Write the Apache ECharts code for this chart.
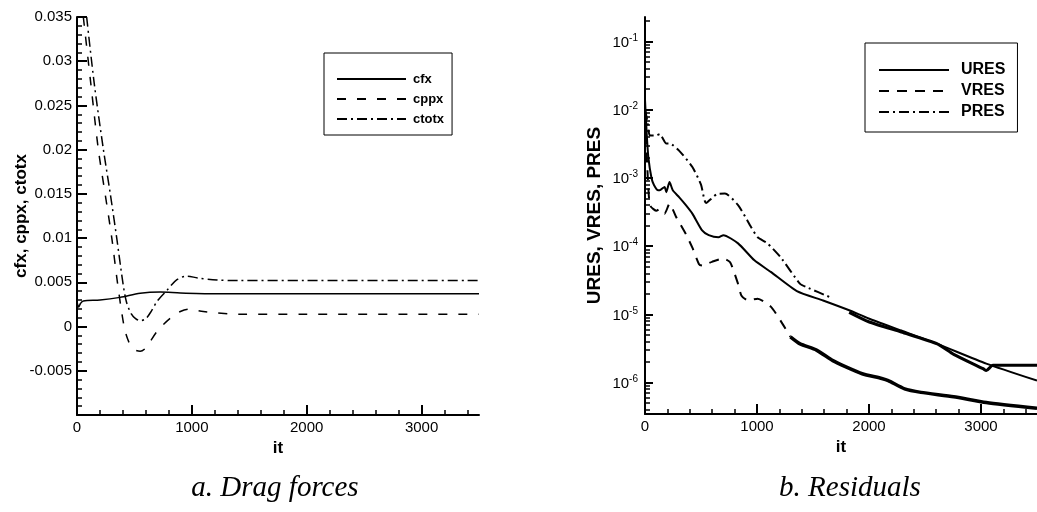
<!DOCTYPE html>
<html>
<head>
<meta charset="utf-8">
<script src="https://cdn.jsdelivr.net/npm/echarts@6/dist/echarts.min.js"></script>
<style>html,body{margin:0;padding:0;background:#fff}#c{width:1037px;height:512px}</style>
</head>
<body>
<div id="c"></div>
<script>
// ---------- data: a. Drag forces ----------
const cfx = [[0,0.0028],[15,0.0022],[30,0.0026],[55,0.0029],[200,0.0030],[375,0.0033],[550,0.00376],[724,0.0039],[900,0.0038],[1219,0.0037],[2000,0.0037],[3500,0.0037]];
const cppx = [[55,0.035],[120,0.0275],[186,0.02],[245,0.015],[303,0.01],[352,0.005],[410,0.0],[450,-0.0017],[500,-0.0026],[550,-0.0028],[600,-0.0024],[700,-0.0005],[812,0.00094],[900,0.0017],[972,0.00196],[1100,0.0017],[1219,0.00155],[1400,0.0014],[2000,0.0014],[3500,0.0014]];
const ctotx = [[84,0.035],[150,0.0275],[230,0.02],[290,0.015],[346,0.01],[399,0.005],[430,0.0028],[470,0.0015],[510,0.0009],[550,0.00066],[600,0.0009],[650,0.0018],[700,0.0029],[783,0.0041],[870,0.0053],[957,0.0057],[1050,0.0055],[1219,0.00526],[1400,0.0052],[2000,0.0052],[3500,0.0052]];
const dragLegend = ['cfx','cppx','ctotx'];
const dragTicks = [-0.005,0,0.005,0.01,0.015,0.02,0.025,0.03,0.035];
const itTicks = [0,1000,2000,3000];

// ---------- data: b. Residuals ----------
const ures = [[0,1.4e-2],[15,4.5e-3],[30,2.0e-3],[58,1.0e-3],[80,7.9e-4],[117,6.6e-4],[131,6.6e-4],[175,7.4e-4],[190,6.2e-4],[219,8.7e-4],[248,6.6e-4],[306,5.2e-4],[365,4.0e-4],[423,3.0e-4],[510,1.7e-4],[569,1.45e-4],[656,1.35e-4],[700,1.45e-4],[831,1.1e-4],[977,6.2e-5],[1123,4.2e-5],[1356,2.2e-5],[1590,1.6e-5],[1823,1.15e-5],[1997,8.7e-6],[2289,5.8e-6],[2610,3.7e-6],[3047,1.9e-6],[3500,1.07e-6]];
const vres = [[0,8e-3],[20,1.5e-3],[44,4.0e-4],[102,3.3e-4],[131,3.5e-4],[175,3.0e-4],[219,4.2e-4],[277,2.7e-4],[365,1.5e-4],[423,9.5e-5],[481,5.5e-5],[510,5.2e-5],[598,5.9e-5],[700,6.6e-5],[760,5.8e-5],[831,2.8e-5],[860,1.9e-5],[919,1.6e-5],[1006,1.7e-5],[1123,1.3e-5],[1210,8.1e-6],[1298,4.7e-6],[1385,3.7e-6],[1531,3.0e-6],[1677,2.1e-6],[1794,1.7e-6],[1939,1.35e-6],[2114,1.15e-6],[2172,1.07e-6],[2318,8.1e-7],[2464,7.2e-7],[2756,6.2e-7],[3047,5.1e-7],[3500,4.2e-7]];
const pres = [[0,1.0e-2],[20,7e-3],[44,4.2e-3],[102,4.2e-3],[131,4.4e-3],[190,3.2e-3],[219,3.2e-3],[306,2.5e-3],[423,1.45e-3],[500,8e-4],[545,4.3e-4],[642,5.8e-4],[714,5.9e-4],[831,4.0e-4],[948,1.9e-4],[1006,1.35e-4],[1094,1.1e-4],[1210,6.9e-5],[1385,2.8e-5],[1444,2.5e-5],[1648,1.8e-5],[1823,1.07e-5],[1997,7.8e-6],[2289,5.5e-6],[2610,3.7e-6],[2756,2.6e-6],[3019,1.6e-6],[3047,1.5e-6],[3106,1.8e-6],[3500,1.8e-6]];
const resLegend = ['URES','VRES','PRES'];
const resExponents = [-6,-5,-4,-3,-2,-1];
const vresNoisyFrom = 1298;
const presNoisyFrom = 1794;

// ---------- build ----------
const SANS = '"Liberation Sans", Arial, sans-serif';
const BLACK = '#000';
const lg = v => Math.log10(v);
const toLog = arr => arr.map(p => [p[0], lg(p[1])]);

const itMinor = [];
for (let v = 200; v < 3500; v += 200) if (v % 1000 !== 0) itMinor.push(v);
const dragMinor = [];
for (let k = -10; k <= 35; k++) if (k % 5 !== 0) dragMinor.push(k / 1000);
const resMajor = resExponents.slice();
const resMinor = [];
for (let d = -7; d <= 0; d++) for (let k = 2; k <= 9; k++) resMinor.push(d + Math.log10(k));
const resMin = -6.46, resMax = -0.64;

function xAxisPair(gridIndex) {
  return [{
    type: 'value', gridIndex, min: 0, max: 3500, position: 'bottom',
    name: 'it', nameLocation: 'middle', nameGap: 16,
    nameTextStyle: {fontFamily: SANS, fontWeight: 'bold', fontSize: 17, color: BLACK},
    axisLine: {show: true, onZero: false, lineStyle: {color: BLACK, width: 2}},
    axisTick: {show: true, inside: true, length: 10, lineStyle: {color: BLACK, width: 2}, customValues: itTicks},
    axisLabel: {show: true, margin: 5, fontFamily: SANS, fontSize: 15, color: BLACK, customValues: itTicks,
      formatter: v => String(v)},
    splitLine: {show: false}
  }, {
    type: 'value', gridIndex, min: 0, max: 3500, position: 'bottom',
    axisLine: {show: false, onZero: false},
    axisTick: {show: true, inside: true, length: 5, lineStyle: {color: BLACK, width: 1.5}, customValues: itMinor},
    axisLabel: {show: false},
    splitLine: {show: false}
  }];
}

const dashedL = [9, 11];
const dashDotL = [10, 4, 2, 4];
const dashedR = [10, 8];
const dashDotR = [10, 4, 2, 4];

const legendCommon = {
  orient: 'vertical', itemHeight: 14, itemGap: 5,
  borderColor: BLACK, borderWidth: 1, selectedMode: false,
  itemStyle: {opacity: 0}
};

const option = {
  backgroundColor: '#fff',
  animation: false,
  grid: [
    {left: 77, top: 17, width: 402, height: 398},
    {left: 645, top: 17, width: 400, height: 397}
  ],
  xAxis: [...xAxisPair(0), ...xAxisPair(1)],
  yAxis: [
    {
      type: 'value', gridIndex: 0, min: -0.01, max: 0.035, position: 'left',
      name: 'cfx, cppx, ctotx', nameLocation: 'middle', nameGap: 47, nameMoveOverlap: false,
      nameTextStyle: {fontFamily: SANS, fontWeight: 'bold', fontSize: 17, color: BLACK},
      axisLine: {show: true, onZero: false, lineStyle: {color: BLACK, width: 2}},
      axisTick: {show: true, inside: true, length: 10, lineStyle: {color: BLACK, width: 2}, customValues: dragTicks},
      axisLabel: {show: true, margin: 5, fontFamily: SANS, fontSize: 15, color: BLACK, customValues: dragTicks,
        formatter: v => String(+(+v).toFixed(3))},
      splitLine: {show: false}
    },
    {
      type: 'value', gridIndex: 0, min: -0.01, max: 0.035, position: 'left',
      axisLine: {show: false, onZero: false},
      axisTick: {show: true, inside: true, length: 5, lineStyle: {color: BLACK, width: 1.5}, customValues: dragMinor},
      axisLabel: {show: false}, splitLine: {show: false}
    },
    {
      type: 'value', gridIndex: 1, min: resMin, max: resMax, position: 'left',
      name: 'URES, VRES, PRES', nameLocation: 'middle', nameGap: 41, nameMoveOverlap: false,
      nameTextStyle: {fontFamily: SANS, fontWeight: 'bold', fontSize: 19, color: BLACK},
      axisLine: {show: true, onZero: false, lineStyle: {color: BLACK, width: 2}},
      axisTick: {show: true, inside: true, length: 8, lineStyle: {color: BLACK, width: 2}, customValues: resMajor},
      axisLabel: {show: true, margin: 7, customValues: resMajor,
        formatter: v => '{b|10}{s|' + Math.round(v) + '}',
        rich: {
          b: {fontFamily: SANS, fontSize: 15, color: BLACK, verticalAlign: 'bottom', lineHeight: 17},
          s: {fontFamily: SANS, fontSize: 10, color: BLACK, verticalAlign: 'top', lineHeight: 17}
        }},
      splitLine: {show: false}
    },
    {
      type: 'value', gridIndex: 1, min: resMin, max: resMax, position: 'left',
      axisLine: {show: false, onZero: false},
      axisTick: {show: true, inside: true, length: 5, lineStyle: {color: BLACK, width: 1.5},
        customValues: resMinor.filter(v => v > resMin && v < resMax)},
      axisLabel: {show: false}, splitLine: {show: false}
    }
  ],
  legend: [
    Object.assign({}, legendCommon, {
      data: dragLegend, left: 324, top: 53,
      itemWidth: 69, itemGap: 6, padding: [19, 8, 9, 12],
      textStyle: {fontFamily: SANS, fontWeight: 'bold', fontSize: 13, lineHeight: 14, color: BLACK, padding: [0, 0, 0, 2]}
    }),
    Object.assign({}, legendCommon, {
      data: resLegend, left: 865, top: 43,
      itemWidth: 70, padding: [19, 12, 12, 13],
      textStyle: {fontFamily: SANS, fontWeight: 'bold', fontSize: 16, lineHeight: 14, color: BLACK, padding: [0, 0, 0, 7]}
    })
  ],
  series: [
    {name: 'cfx', type: 'line', xAxisIndex: 0, yAxisIndex: 0, data: cfx, symbol: 'none', smooth: 0.3,
      lineStyle: {color: BLACK, width: 1.5, type: 'solid'}, itemStyle: {color: BLACK}},
    {name: 'cppx', type: 'line', xAxisIndex: 0, yAxisIndex: 0, data: cppx, symbol: 'none', smooth: 0.3,
      lineStyle: {color: BLACK, width: 1.5, type: dashedL}, itemStyle: {color: BLACK}},
    {name: 'ctotx', type: 'line', xAxisIndex: 0, yAxisIndex: 0, data: ctotx, symbol: 'none', smooth: 0.3,
      lineStyle: {color: BLACK, width: 1.5, type: dashDotL}, itemStyle: {color: BLACK}},

    {name: 'URES', type: 'line', xAxisIndex: 2, yAxisIndex: 2, data: toLog(ures), symbol: 'none', smooth: 0.2,
      lineStyle: {color: BLACK, width: 2, type: 'solid'}, itemStyle: {color: BLACK}},
    {name: 'VRES', type: 'line', xAxisIndex: 2, yAxisIndex: 2, data: toLog(vres.filter(p => p[0] <= vresNoisyFrom)), symbol: 'none', smooth: 0.2,
      lineStyle: {color: BLACK, width: 2, type: dashedR}, itemStyle: {color: BLACK}},
    {name: 'PRES', type: 'line', xAxisIndex: 2, yAxisIndex: 2, data: toLog(pres.filter(p => p[0] <= presNoisyFrom)), symbol: 'none', smooth: 0.2,
      lineStyle: {color: BLACK, width: 2, type: dashDotR}, itemStyle: {color: BLACK}},
    {name: 'VRES', type: 'line', xAxisIndex: 2, yAxisIndex: 2, data: toLog(vres.filter(p => p[0] >= vresNoisyFrom)), symbol: 'none', smooth: 0.2,
      lineStyle: {color: BLACK, width: 3.5, type: 'solid'}, itemStyle: {color: BLACK}},
    {name: 'PRES', type: 'line', xAxisIndex: 2, yAxisIndex: 2, data: toLog(pres.filter(p => p[0] >= presNoisyFrom)), symbol: 'none', smooth: 0.2,
      lineStyle: {color: BLACK, width: 3, type: 'solid'}, itemStyle: {color: BLACK}}
  ],
  graphic: [
    {type: 'text', x: 275, y: 488, style: {text: 'a. Drag forces', font: 'italic 29px "Liberation Serif", serif', fill: BLACK, align: 'center', verticalAlign: 'middle'}},
    {type: 'text', x: 850, y: 488, style: {text: 'b. Residuals', font: 'italic 29px "Liberation Serif", serif', fill: BLACK, align: 'center', verticalAlign: 'middle'}}
  ]
};

const chart = echarts.init(document.getElementById('c'), null, {renderer: 'canvas'});
chart.setOption(option);
</script>
</body>
</html>
